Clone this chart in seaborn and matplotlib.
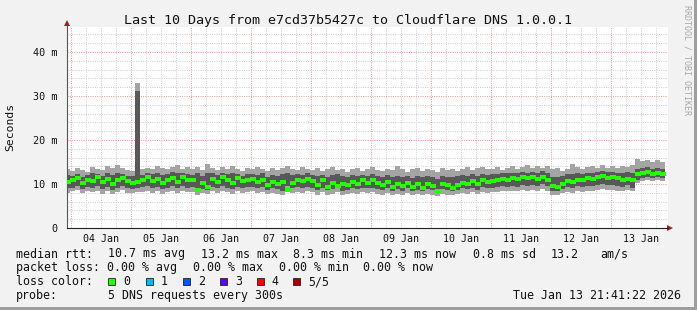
import numpy as np
import pandas as pd
import matplotlib
matplotlib.use("Agg")
import matplotlib.pyplot as plt
import matplotlib.dates as mdates
from matplotlib.patches import Rectangle
from matplotlib.ticker import MultipleLocator, FixedLocator, FuncFormatter
import seaborn as sns

# ---------------- data (2-hour bins, milliseconds) ----------------
start_time = "2026-01-03 21:41:22"
bin_hours = 2

median_ms = [
    10.4,
    10.8, 11.4, 10.2, 11.0, 10.6, 11.6, 10.4, 11.2, 10.0, 10.9, 11.3, 10.6,
    10.2, 10.5, 10.9, 11.5, 10.6, 11.2, 10.3, 11.0, 11.4, 10.5, 11.6, 10.8,
    10.9, 8.7, 10.2, 9.3, 11.1, 10.4, 11.5, 10.8, 10.2, 11.3, 10.6, 10.9,
    11.2, 10.5, 10.9, 9.8, 10.4, 10.0, 10.5, 8.7, 10.3, 11.0, 10.6, 11.2,
    10.7, 9.8, 10.8, 9.4, 10.2, 9.5, 10.1, 9.7, 10.5, 10.0, 10.8, 10.3,
    10.8, 10.2, 9.7, 10.5, 9.3, 10.0, 9.6, 10.3, 9.4, 9.9, 9.2, 10.1,
    9.6, 8.5, 9.9, 9.8, 9.2, 9.8, 10.3, 10.0, 10.6, 9.9, 10.8, 10.4,
    10.6, 10.9, 11.2, 11.0, 11.4, 11.1, 11.5, 11.3, 11.6, 11.2, 11.6, 11.0,
    9.6, 9.4, 10.1, 10.6, 10.5, 11.0, 10.8, 11.3, 11.1, 11.5, 11.8, 11.4,
    11.6, 11.3, 11.0, 11.2, 10.9, 12.2, 12.5, 12.7, 12.3, 12.5, 12.3,
]

smoke_max_ms = [
    13.3,
    12.9, 13.6, 13.2, 12.8, 13.9, 13.4, 13.1, 14.0, 13.6, 14.4, 13.7, 13.2,
    12.9, 32.9, 13.3, 13.7, 13.5, 14.0, 13.6, 13.3, 13.9, 14.3, 13.5, 13.8,
    13.4, 13.9, 13.1, 14.6, 13.7, 13.2, 13.8, 13.4, 14.1, 13.5, 13.0, 13.6,
    13.3, 13.9, 13.5, 12.9, 13.6, 13.2, 13.7, 14.2, 13.4, 13.1, 13.8, 13.5,
    13.2, 13.7, 12.9, 13.4, 13.8, 13.1, 13.5, 12.8, 13.3, 13.6, 13.0, 13.4,
    13.8, 13.2, 12.9, 13.5, 13.1, 14.0, 13.3, 12.8, 13.4, 13.7, 13.0, 13.5,
    13.2, 12.8, 13.6, 13.1, 13.4, 12.9, 13.5, 13.8, 13.2, 13.6, 13.9, 13.3,
    13.5, 13.9, 13.2, 13.7, 14.1, 13.4, 13.8, 14.4, 13.6, 14.0, 13.7, 14.2,
    13.3, 13.6, 13.0, 13.5, 14.5, 13.8, 13.4, 13.9, 14.1, 13.6, 14.3, 13.7,
    14.0, 13.6, 14.2, 13.8, 14.4, 15.6, 15.2, 15.5, 14.9, 15.4, 15.1,
]

smoke_upper_ms = [
    12.0,
    11.8, 12.3, 11.7, 12.1, 12.4, 12.2, 11.9, 12.5, 12.0, 12.6, 12.3, 11.9,
    11.8, 31.2, 12.1, 12.5, 12.2, 12.6, 12.1, 12.3, 12.7, 12.4, 12.6, 12.2,
    12.1, 12.4, 11.9, 12.6, 12.5, 12.0, 12.6, 12.2, 12.4, 12.3, 11.9, 12.2,
    12.3, 12.0, 12.4, 11.7, 12.1, 11.9, 12.2, 12.6, 12.0, 12.3, 12.1, 12.4,
    12.0, 11.8, 12.1, 11.6, 12.0, 12.2, 11.8, 11.6, 12.0, 11.9, 12.1, 11.8,
    12.2, 11.9, 11.6, 12.0, 11.5, 11.8, 11.6, 11.9, 11.4, 11.8, 11.5, 11.9,
    11.6, 11.2, 11.9, 11.7, 11.5, 11.8, 12.0, 11.9, 12.2, 11.8, 12.3, 12.1,
    12.2, 12.3, 12.5, 12.4, 12.6, 12.4, 12.7, 12.6, 12.8, 12.5, 12.9, 12.4,
    11.6, 11.5, 11.9, 12.2, 12.3, 12.5, 12.3, 12.6, 12.5, 12.8, 12.9, 12.7,
    12.8, 12.6, 12.5, 12.7, 12.4, 13.4, 13.6, 13.8, 13.5, 13.7, 13.4,
]

smoke_lower_ms = [
    9.0,
    9.2, 9.5, 8.8, 9.3, 9.0, 9.6, 8.9, 9.4, 8.7, 9.2, 9.5, 9.0,
    8.9, 9.1, 9.3, 9.6, 9.1, 9.4, 8.9, 9.2, 9.5, 9.0, 9.6, 9.2,
    9.3, 8.3, 8.9, 8.6, 9.4, 9.0, 9.5, 9.2, 8.9, 9.4, 9.1, 9.3,
    9.4, 9.0, 9.3, 8.7, 9.0, 8.8, 8.3, 9.5, 9.0, 9.3, 9.1, 9.4,
    9.2, 8.6, 9.2, 8.6, 8.9, 9.3, 8.5, 8.7, 9.1, 8.8, 9.2, 9.0,
    9.2, 8.9, 8.6, 9.1, 8.4, 8.8, 8.5, 9.0, 8.4, 8.7, 8.3, 8.9,
    8.6, 8.0, 8.8, 8.6, 8.3, 8.7, 9.0, 8.8, 9.2, 8.7, 9.3, 9.0,
    9.2, 9.3, 9.5, 9.4, 9.6, 9.4, 9.7, 9.5, 9.8, 9.6, 9.9, 9.5,
    8.4, 8.3, 8.9, 9.3, 9.1, 9.5, 9.3, 9.6, 9.5, 9.8, 9.9, 9.7,
    9.8, 9.6, 9.4, 9.7, 9.2, 10.9, 11.4, 11.6, 11.3, 11.5, 11.4,
]

smoke_min_ms = [
    8.0,
    8.3, 8.6, 7.9, 8.4, 8.1, 8.5, 7.8, 8.4, 7.7, 8.2, 8.6, 8.0,
    7.9, 8.1, 8.2, 8.5, 8.0, 8.3, 7.8, 8.1, 8.4, 7.9, 8.5, 8.1,
    8.2, 7.6, 7.9, 7.8, 8.3, 7.9, 8.4, 8.1, 7.8, 8.3, 8.0, 8.2,
    8.3, 7.9, 8.2, 7.7, 7.9, 7.8, 7.5, 8.4, 7.9, 8.2, 8.0, 8.3,
    8.1, 7.6, 8.1, 7.5, 7.8, 8.2, 7.6, 7.7, 8.0, 7.7, 8.1, 7.9,
    8.1, 7.8, 7.6, 8.0, 7.5, 7.8, 7.5, 7.9, 7.4, 7.7, 7.4, 7.8,
    7.6, 7.3, 7.8, 7.6, 7.4, 7.7, 8.0, 7.8, 8.1, 7.7, 8.2, 7.9,
    8.1, 8.2, 8.4, 8.3, 8.5, 8.3, 8.6, 8.4, 8.7, 8.5, 8.8, 8.4,
    7.6, 7.4, 7.9, 8.2, 8.0, 8.4, 8.2, 8.5, 8.4, 8.7, 8.8, 8.6,
    8.7, 8.5, 8.3, 8.6, 8.4, 10.3, 10.7, 10.9, 10.6, 10.8, 10.6,
]

y_ticks_ms = [0, 10, 20, 30, 40]
y_tick_labels = ["0", "10 m", "20 m", "30 m", "40 m"]
x_view = ("2026-01-03 22:24", "2026-01-13 22:48")
y_view_max = 45.75

title = "Last 10 Days from e7cd37b5427c to Cloudflare DNS 1.0.0.1"
loss_labels = ["0", "1", "2", "3", "4", "5/5"]
loss_colors = ["#26ff00", "#00b8ff", "#0059ff", "#5e00ff", "#ff0000", "#a00000"]

# ---------------- figure ----------------
sns.set_style("white")
plt.rcParams["font.family"] = ["DejaVu Sans Mono", "DejaVu Sans"]

W, H = 697, 310
BG = "#f2f2f2"
fig = plt.figure(figsize=(W / 100, H / 100), dpi=100, facecolor=BG)


def fx(px):
    return px / W


def fy(py):
    return 1 - py / H


ax = fig.add_axes([fx(67), fy(228), (668 - 67) / W, (228 - 26.7) / H])
ax.set_facecolor("white")

n = len(median_ms)
edges = pd.date_range(start_time, periods=n + 1, freq=f"{bin_hours}h")
edges_num = mdates.date2num(edges.to_pydatetime())
centers_num = (edges_num[:-1] + edges_num[1:]) / 2

ax.stairs(smoke_max_ms, edges_num, baseline=smoke_min_ms, fill=True,
          color="#a4a4a4", linewidth=0, zorder=2)
ax.stairs(smoke_upper_ms, edges_num, baseline=smoke_lower_ms, fill=True,
          color="#585858", linewidth=0, zorder=3)

df = pd.DataFrame({"t": centers_num, "ms": median_ms})
dash = [(-1, -0.6), (1, -0.6), (1, 0.6), (-1, 0.6), (-1, -0.6)]
sns.scatterplot(data=df, x="t", y="ms", marker=dash, s=14, color="#26ff00",
                linewidth=0, ax=ax, zorder=4, legend=False)

ax.set_xlim(mdates.datestr2num(x_view[0]), mdates.datestr2num(x_view[1]))
ax.set_ylim(0, y_view_max)
ax.set_xlabel("")
ax.set_ylabel("")

# x axis: midnights (major, red grid), 6h (minor, grey grid), labels at noon
ax.xaxis.set_major_locator(mdates.DayLocator())
ax.xaxis.set_minor_locator(mdates.HourLocator(byhour=[6, 12, 18]))


def noon_fmt(x, pos):
    d = mdates.num2date(x)
    return d.strftime("%d %b") if d.hour == 12 else ""


ax.xaxis.set_major_formatter(FuncFormatter(lambda x, p: ""))
ax.xaxis.set_minor_formatter(FuncFormatter(noon_fmt))
ax.tick_params(axis="x", which="major", length=3, width=0.8, color="#404040",
               direction="out")
ax.tick_params(axis="x", which="minor", length=0, pad=4.0, labelsize=7.2,
               labelcolor="#111111")

ax.yaxis.set_major_locator(FixedLocator(y_ticks_ms))
ax.set_yticklabels(y_tick_labels)
ax.yaxis.set_minor_locator(MultipleLocator(2))
ax.tick_params(axis="y", which="major", length=3, width=0.8, color="#404040",
               direction="out", pad=3.5, labelsize=7.3, labelcolor="#111111")
ax.tick_params(axis="y", which="minor", length=0)

ax.set_axisbelow(True)
ax.grid(which="major", color="#e7a3a3", linestyle=(0, (1, 1.2)), linewidth=0.75)
ax.grid(which="minor", color="#d2d2d2", linestyle=(0, (1, 1.2)), linewidth=0.75)

for s in ("top", "right"):
    ax.spines[s].set_visible(False)
ax.spines["left"].set_color("#555555")
ax.spines["bottom"].set_color("#222222")
ax.spines["left"].set_linewidth(0.8)
ax.spines["bottom"].set_linewidth(0.8)

# axis arrows
ax.plot([0, 0], [1.0, 1.012], color="#555555", lw=0.8, transform=ax.transAxes,
        clip_on=False)
ax.plot([0], [1.018], marker="^", markersize=4.5, color="#a01e1e",
        transform=ax.transAxes, clip_on=False, markeredgewidth=0)
ax.plot([1.0035], [0], marker=">", markersize=4.5, color="#a01e1e",
        transform=ax.transAxes, clip_on=False, markeredgewidth=0)

# texts
fig.text(fx(348), fy(24), title, ha="center", va="baseline", fontsize=9.6,
         color="#111111")
fig.text(fx(10), fy(127), "Seconds", rotation=90, ha="center", va="center",
         fontsize=8.2, color="#111111")
fig.text(fx(687.5), fy(60), "RRDTOOL / TOBI OETIKER", rotation=270,
         ha="center", va="center", fontsize=6, color="#a8a8a8")

LF = 8.4
rows = [
    (257.5, [(16, "median rtt:"), (108.3, "10.7 ms avg"), (201, "13.2 ms max"),
             (293.3, "8.3 ms min"), (379.3, "12.3 ms now"), (472.7, "0.8 ms sd"),
             (551, "13.2"), (600, "am/s")]),
    (271.4, [(16, "packet loss:"), (107.3, "0.00 % avg"), (193.3, "0.00 % max"),
             (279.3, "0.00 % min"), (362.7, "0.00 % now")]),
    (285.3, [(16, "loss color:")]),
    (299.2, [(16, "probe:"), (108.3, "5 DNS requests every 300s"),
             (513.3, "Tue Jan 13 21:41:22 2026")]),
]
for yb, items in rows:
    for xp, txt in items:
        fig.text(fx(xp), fy(yb), txt, ha="left", va="baseline", fontsize=LF,
                 color="#111111")

box_x = [108.3, 145.7, 182.7, 220.0, 256.7, 293.3]
lab_x = [123.3, 160.7, 197.7, 235.0, 271.7, 308.3]
for bx, lx, c, lab in zip(box_x, lab_x, loss_colors, loss_labels):
    fig.patches.append(Rectangle((fx(bx), fy(285.3)), 7 / W, 7.3 / H,
                                 transform=fig.transFigure, facecolor=c,
                                 edgecolor="#222222", linewidth=0.6))
    fig.text(fx(lx), fy(285.3), lab, ha="left", va="baseline", fontsize=LF,
             color="#111111")

# frame shading (right / bottom)
fig.patches.append(Rectangle((fx(694), 0), 3 / W, 1, transform=fig.transFigure,
                             facecolor="#9e9e9e", edgecolor="none"))
fig.patches.append(Rectangle((0, 0), 1, 3 / H, transform=fig.transFigure,
                             facecolor="#9e9e9e", edgecolor="none"))

fig.savefig("out.png", dpi=100, facecolor=BG)
